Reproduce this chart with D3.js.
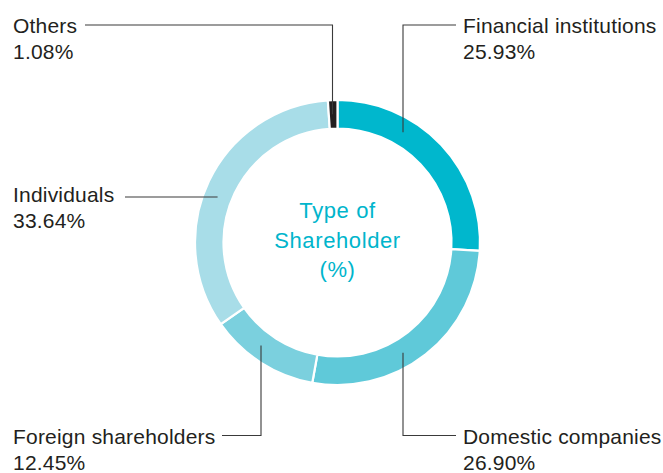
<!DOCTYPE html>
<html>
<head>
<meta charset="utf-8">
<script src="https://cdn.jsdelivr.net/npm/d3@7"></script>
<style>
  body { margin: 0; background: #fff; }
  text { font-family: "Liberation Sans", Arial, sans-serif; }
</style>
</head>
<body>
<div id="chart"></div>
<script>
// shareholder types, clockwise from 12 o'clock
var categories = ["Financial institutions", "Domestic companies", "Foreign shareholders", "Individuals", "Others"];
var values = [25.93, 26.90, 12.45, 33.64, 1.08];
var valueLabels = ["25.93%", "26.90%", "12.45%", "33.64%", "1.08%"];
var colors = ["#00b7cd", "#5fc9d9", "#7bd0de", "#a8dde8", "#231f20"];
var centerLines = ["Type of", "Shareholder", "(%)"];

var width = 663, height = 473;
var cx = 337.5, cy = 242.5,
    outerR = 142.5, innerR = 114,
    midR = (outerR + innerR) / 2;

// label placement: side, label baseline, leader elbow (x or y the leader runs on)
var labelLayout = [
  {side: "right", y: 33, lineY: 25, elbow: 403, dir: "v"},
  {side: "right", y: 444, lineY: 435.5, elbow: 403, dir: "v"},
  {side: "left", y: 444, lineY: 435.5, elbow: 261, dir: "v", start: 222},
  {side: "left", y: 202, lineY: 197, elbow: null, dir: "h", start: 125},
  {side: "left", y: 33, lineY: 25, elbow: 332.5, dir: "v", start: 85}
];

var svg = d3.select("#chart")
  .append("svg")
  .attr("width", width)
  .attr("height", height);

var g = svg.append("g")
  .attr("transform", "translate(" + cx + "," + cy + ")");

var pie = d3.pie().sort(null).value(function(d) { return d; });
var arc = d3.arc().innerRadius(innerR).outerRadius(outerR);

var arcs = pie(values);

g.selectAll("path.slice")
  .data(arcs)
  .enter()
  .append("path")
  .attr("class", "slice")
  .attr("d", arc)
  .attr("fill", function(d, i) { return colors[i]; })
  .attr("stroke", "#fff")
  .attr("stroke-width", 2.2);

// center title
g.selectAll("text.center")
  .data(centerLines)
  .enter()
  .append("text")
  .attr("class", "center")
  .attr("x", 0)
  .attr("y", function(d, i) { return -24.5 + i * 29.5; })
  .attr("text-anchor", "middle")
  .attr("font-size", 22)
  .attr("letter-spacing", 0.6)
  .attr("fill", "#00b5cc")
  .text(function(d) { return d; });

// leader lines
labelLayout.forEach(function(L, i) {
  var pts;
  if (L.dir === "v") {
    var dx = L.elbow - cx;
    var dy = Math.sqrt(midR * midR - dx * dx);
    var yEnd = L.lineY < cy ? cy - dy : cy + dy;
    var xStart = L.side === "right" ? 456 : L.start;
    pts = [[xStart, L.lineY], [L.elbow, L.lineY], [L.elbow, yEnd]];
  } else {
    var ddy = L.lineY - cy;
    var xEnd = cx - Math.sqrt(midR * midR - ddy * ddy);
    pts = [[L.start, L.lineY], [xEnd, L.lineY]];
  }
  svg.append("path")
    .attr("d", d3.line()(pts))
    .attr("fill", "none")
    .attr("stroke", "#3a3a3a")
    .attr("stroke-width", 1.1);
});

// labels
var labels = svg.selectAll("g.label")
  .data(categories)
  .enter()
  .append("g")
  .attr("class", "label");

labels.append("text")
  .attr("x", function(d, i) { return labelLayout[i].side === "right" ? 463 : 13; })
  .attr("y", function(d, i) { return labelLayout[i].y; })
  .attr("font-size", 21)
  .attr("letter-spacing", 0.2)
  .attr("fill", "#231f20")
  .text(function(d) { return d; });

labels.append("text")
  .attr("x", function(d, i) { return labelLayout[i].side === "right" ? 463 : 13; })
  .attr("y", function(d, i) { return labelLayout[i].y + 25.5; })
  .attr("font-size", 21)
  .attr("letter-spacing", 0.2)
  .attr("fill", "#231f20")
  .text(function(d, i) { return valueLabels[i]; });
</script>
</body>
</html>
